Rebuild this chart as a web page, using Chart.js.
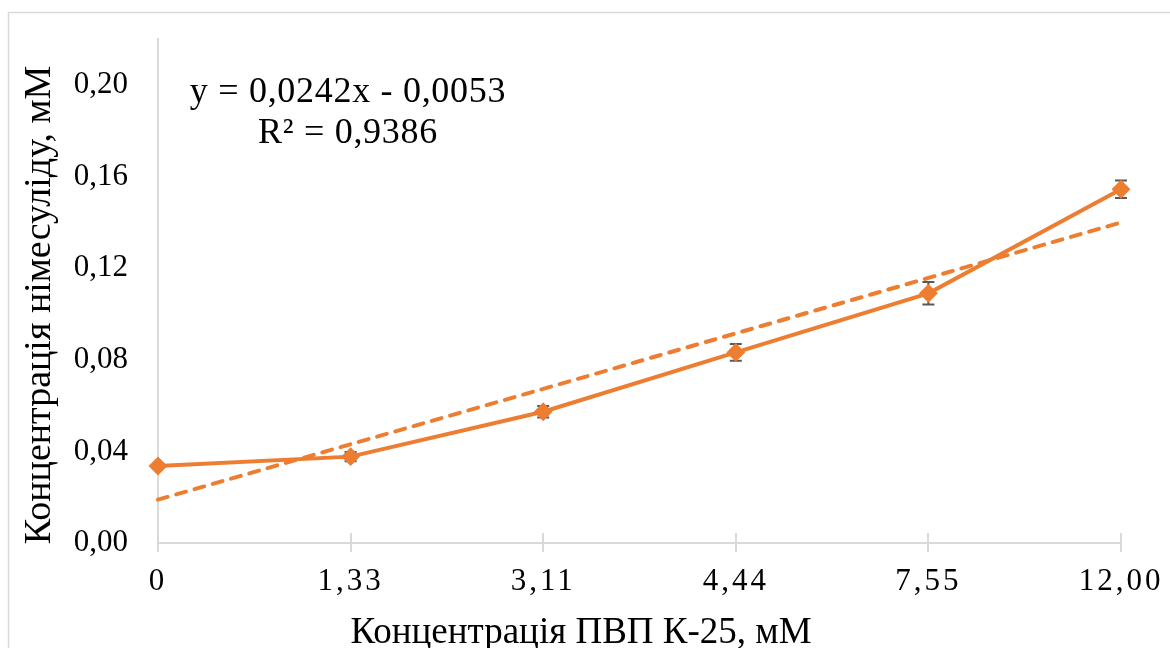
<!DOCTYPE html>
<html lang="uk">
<head>
<meta charset="utf-8">
<title>Концентрація німесуліду</title>
<script src="https://cdn.jsdelivr.net/npm/chart.js@4.4.1/dist/chart.umd.min.js"></script>
<style>
  html, body { margin: 0; padding: 0; background: #ffffff; }
  #wrap { width: 1170px; height: 648px; position: relative; }
  canvas { display: block; }
</style>
</head>
<body>
<div id="wrap"><canvas id="chart" width="1170" height="648"></canvas></div>
<script>
// Концентрація ПВП К-25, мМ (categories on the x axis)
const categories = ['0', '1,33', '3,11', '4,44', '7,55', '12,00'];
// Концентрація німесуліду, мМ (mean values)
const nimesulide = [0.0336, 0.0377, 0.0573, 0.0832, 0.1090, 0.1544];
// standard deviation for each mean
const nimesulideErr = [0.0010, 0.0020, 0.0025, 0.0037, 0.0049, 0.0038];
// linear trend y = 0,0242x - 0,0053 evaluated at x = 1..6
const trendValues = [0.0189, 0.0431, 0.0673, 0.0915, 0.1157, 0.1399];
// y axis ticks
const yTicks = [0, 0.04, 0.08, 0.12, 0.16, 0.20];
const yMax = 0.22;
// trendline equation label
const equationLines = ['y = 0,0242x - 0,0053', 'R² = 0,9386'];
const xTitle = 'Концентрація ПВП К-25, мМ';
const yTitle = 'Концентрація німесуліду, мМ';

const ORANGE = '#ED7D31';
const AXIS_GREY = '#d9d9d9';
const SERIF = '"Liberation Serif", "Times New Roman", serif';

// outer frame, inner tick halves, axis titles, equation and error bars
const decorations = {
  id: 'decorations',
  beforeDraw(chart) {
    const ctx = chart.ctx;
    ctx.save();
    ctx.strokeStyle = AXIS_GREY;
    ctx.lineWidth = 1.5;
    ctx.strokeRect(8.5, 12.5, 2000, 2000);
    ctx.restore();

    // spaced-out category labels on the x axis
    const xs = chart.scales.x;
    if (!xs.__spaced) {
      const orig = xs.drawLabels;
      xs.drawLabels = function (area) {
        this.ctx.save();
        this.ctx.letterSpacing = '3px';
        orig.call(this, area);
        this.ctx.restore();
      };
      xs.__spaced = true;
    }
  },
  beforeDatasetsDraw(chart) {
    const ctx = chart.ctx;
    const xs = chart.scales.x, ys = chart.scales.y;
    ctx.save();
    // tick marks crossing into the plot area
    ctx.strokeStyle = AXIS_GREY;
    ctx.lineWidth = 2;
    const yb = chart.chartArea.bottom;
    xs.ticks.forEach((t, i) => {
      const px = Math.round(xs.getPixelForTick(i));
      ctx.beginPath();
      ctx.moveTo(px, yb);
      ctx.lineTo(px, yb - 10);
      ctx.stroke();
    });
    // error bars
    ctx.strokeStyle = '#595959';
    ctx.lineWidth = 2;
    nimesulide.forEach((v, i) => {
      const px = xs.getPixelForValue(i);
      const top = ys.getPixelForValue(v + nimesulideErr[i]);
      const bot = ys.getPixelForValue(v - nimesulideErr[i]);
      ctx.beginPath();
      ctx.moveTo(px, top); ctx.lineTo(px, bot);
      ctx.moveTo(px - 6, top); ctx.lineTo(px + 6, top);
      ctx.moveTo(px - 6, bot); ctx.lineTo(px + 6, bot);
      ctx.stroke();
    });
    ctx.restore();
  },
  afterDraw(chart) {
    const ctx = chart.ctx;
    ctx.save();
    ctx.fillStyle = '#000000';
    ctx.textAlign = 'center';
    ctx.textBaseline = 'alphabetic';
    // x axis title
    ctx.font = '37px ' + SERIF;
    ctx.fillText(xTitle, 581, 643);
    // y axis title
    ctx.save();
    ctx.font = '38px ' + SERIF;
    ctx.translate(50, 305);
    ctx.rotate(-Math.PI / 2);
    ctx.fillText(yTitle, 0, 0);
    ctx.restore();
    // trendline equation
    ctx.font = '36px ' + SERIF;
    ctx.letterSpacing = '0.7px';
    ctx.fillText(equationLines[0], 348, 102);
    ctx.fillText(equationLines[1], 348, 143);
    ctx.restore();
  }
};

new Chart(document.getElementById('chart'), {
  type: 'line',
  data: {
    labels: categories,
    datasets: [
      {
        label: 'Концентрація німесуліду',
        data: nimesulide,
        borderColor: ORANGE,
        backgroundColor: ORANGE,
        borderWidth: 4,
        pointStyle: 'rectRot',
        pointRadius: 8,
        pointBorderWidth: 2,
        pointBackgroundColor: ORANGE,
        pointBorderColor: ORANGE,
        tension: 0,
        order: 2
      },
      {
        label: 'Лінійний тренд',
        data: trendValues,
        borderColor: ORANGE,
        borderWidth: 4,
        borderDash: [10, 9],
        borderCapStyle: 'round',
        pointRadius: 0,
        tension: 0,
        order: 1
      }
    ]
  },
  options: {
    responsive: false,
    animation: false,
    layout: { padding: { top: 39, right: 49, left: 0, bottom: 0 } },
    plugins: {
      legend: { display: false },
      tooltip: { enabled: false },
      title: { display: false }
    },
    scales: {
      x: {
        type: 'category',
        offset: false,
        grid: {
          display: true,
          drawOnChartArea: false,
          drawTicks: true,
          tickLength: 9,
          color: AXIS_GREY,
          lineWidth: 2
        },
        border: { display: true, color: AXIS_GREY, width: 2 },
        ticks: {
          font: { family: SERIF, size: 31 },
          color: '#000000',
          padding: 11,
          maxRotation: 0,
          autoSkip: false
        },
        afterFit(scale) { scale.height = 105; }
      },
      y: {
        min: 0,
        max: yMax,
        grid: { display: false, drawTicks: false },
        border: { display: true, color: AXIS_GREY, width: 2 },
        afterBuildTicks(scale) { scale.ticks = yTicks.map(v => ({ value: v })); },
        ticks: {
          font: { family: SERIF, size: 31 },
          color: '#000000',
          padding: 30,
          callback: v => v.toFixed(2).replace('.', ',')
        },
        afterFit(scale) {
          scale.width = 158;
          scale.paddingTop = 0;
          scale.paddingBottom = 0;
        }
      }
    }
  },
  plugins: [decorations]
});
</script>
</body>
</html>
